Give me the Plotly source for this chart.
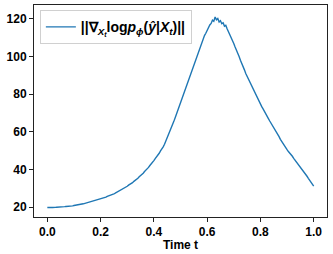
import plotly.graph_objects as go

t_values = [i / 200 for i in range(201)]
grad_norm = [
    19.8, 19.9, 19.7, 19.8, 19.8, 19.7, 19.9, 20.0, 20.0, 19.9,
    20.1, 20.2, 20.2, 20.3, 20.4, 20.4, 20.5, 20.6, 20.7, 20.7,
    20.9, 21.1, 21.2, 21.2, 21.4, 21.6, 21.7, 21.8, 22.0, 22.2,
    22.3, 22.4, 22.6, 22.9, 23.0, 23.1, 23.4, 23.7, 23.8, 24.0,
    24.3, 24.6, 24.8, 25.0, 25.3, 25.7, 25.9, 26.1, 26.5, 26.9,
    27.1, 27.4, 27.8, 28.2, 28.5, 28.8, 29.3, 29.9, 30.2, 30.5,
    31.1, 31.7, 32.0, 32.4, 33.0, 33.7, 34.1, 34.6, 35.3, 36.1,
    36.6, 37.2, 38.0, 38.9, 39.5, 40.1, 41.1, 42.1, 42.8, 43.6,
    44.7, 45.8, 46.6, 47.4, 48.6, 49.9, 50.8, 52.0, 53.4, 55.0,
    56.6, 58.6, 60.2, 61.9, 63.9, 65.5, 67.4, 69.4, 71.0, 72.9,
    75.0, 76.6, 78.8, 80.6, 82.5, 84.8, 86.6, 88.7, 90.9, 92.6,
    95.0, 96.9, 99.3, 101.4, 103.6, 105.3, 107.6, 109.0, 111.0, 112.2,
    114.0, 115.0, 116.6, 117.4, 119.2, 118.6, 120.8, 119.4, 120.1, 118.2,
    118.9, 117.3, 117.8, 116.0, 116.4, 114.6, 113.2, 111.5, 110.1, 108.2,
    106.8, 104.9, 103.4, 101.5, 99.9, 97.9, 96.4, 94.5, 92.8, 90.9,
    89.4, 87.6, 86.3, 84.6, 83.2, 81.6, 80.3, 78.7, 77.5, 76.0,
    74.8, 73.3, 72.1, 70.6, 69.5, 68.1, 67.0, 65.7, 64.6, 63.3,
    62.2, 60.9, 59.8, 58.5, 57.4, 56.0, 54.8, 53.5, 52.5, 51.4,
    50.5, 49.5, 48.8, 47.8, 47.0, 45.9, 45.0, 44.0, 43.2, 42.2,
    41.3, 40.3, 39.4, 38.4, 37.5, 36.4, 35.3, 34.3, 33.2, 32.3,
    31.2,
]
x_ticks = [0.0, 0.2, 0.4, 0.6, 0.8, 1.0]
y_ticks = [20, 40, 60, 80, 100, 120]

legend_label = ("<b>||∇<sub><i>X<sub>t</sub></i></sub>log<i>p</i><sub><i>ϕ</i></sub>"
                "(<i>ŷ</i>|<i>X</i><sub><i>t</i></sub>)||</b>")

fig = go.Figure()
fig.add_trace(go.Scatter(x=t_values, y=grad_norm, mode="lines",
                         line=dict(color="#1f77b4", width=1.4),
                         name=legend_label))

font = dict(family="Liberation Sans, Arial, sans-serif", size=12, color="black")
axis_common = dict(showline=True, mirror=True, linecolor="#222", linewidth=1,
                   ticks="outside", ticklen=4, tickcolor="#222", showgrid=False,
                   zeroline=False, tickfont=dict(family=font["family"], size=12, color="black"))

fig.update_layout(
    width=333, height=254,
    margin=dict(l=34, r=6, t=4, b=32),
    plot_bgcolor="white", paper_bgcolor="white",
    font=font,
    showlegend=True,
    legend=dict(x=0.02, y=0.975, xanchor="left", yanchor="top",
                bgcolor="white", bordercolor="#d0d0d0", borderwidth=1,
                itemwidth=30,
                font=dict(size=14, family=font["family"], color="black")),
    xaxis=dict(range=[-0.05, 1.05], tickvals=x_ticks,
               ticktext=["<b>%.1f</b>" % v for v in x_ticks],
               title=dict(text="<b>Time t</b>", standoff=2, font=dict(size=12)),
               **axis_common),
    yaxis=dict(range=[14.8, 127.2], tickvals=y_ticks,
               ticktext=["<b>%d</b>" % v for v in y_ticks],
               **axis_common),
)
fig.write_html("out.html", config={"displayModeBar": False},
               post_script="document.body.style.margin='0';")
